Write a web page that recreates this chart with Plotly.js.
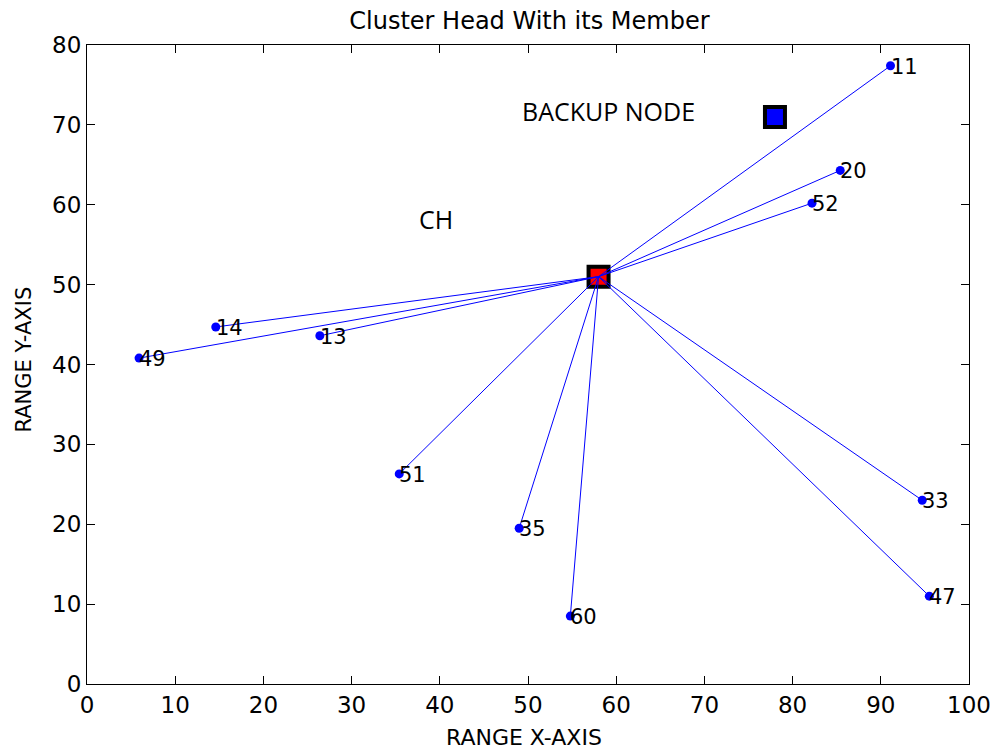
<!DOCTYPE html>
<html>
<head>
<meta charset="utf-8">
<script src="https://cdn.plot.ly/plotly-3.0.1.min.js"></script>
<style>html,body{margin:0;padding:0;background:#fff;}#chart{width:997px;height:753px;}</style>
</head>
<body>
<div id="chart"></div>
<script>
// Cluster head and backup node
const chX = 58, chY = 51;
const backupX = 78, backupY = 71;
// Member nodes
const memberIds = ["11", "20", "52", "14", "13", "49", "51", "35", "60", "33", "47"];
const memberX = [91.1, 85.4, 82.2, 14.6, 26.4, 5.9, 35.4, 49.0, 54.8, 94.7, 95.5];
const memberY = [77.4, 64.3, 60.2, 44.7, 43.6, 40.8, 26.3, 19.5, 8.5, 23.0, 11.0];

// Build link segments from CH to each member
const linkX = [], linkY = [];
for (let i = 0; i < memberX.length; i++) {
  linkX.push(chX, memberX[i], null);
  linkY.push(chY, memberY[i], null);
}

const font = "DejaVu Sans, Arial, sans-serif";
const labelFont = "Open Sans, Lato, sans-serif";

const traces = [
  {x: [chX], y: [chY], mode: 'markers', type: 'scatter', hoverinfo: 'skip',
   marker: {symbol: 'square', size: 20, color: '#ff0000', line: {color: '#000', width: 4}}},
  {x: [backupX], y: [backupY], mode: 'markers', type: 'scatter', hoverinfo: 'skip',
   marker: {symbol: 'square', size: 20, color: '#0000ff', line: {color: '#000', width: 4}}},
  {x: linkX, y: linkY, mode: 'lines', type: 'scatter', hoverinfo: 'skip',
   line: {color: '#0000ff', width: 1}},
  {x: memberX, y: memberY, mode: 'markers', type: 'scatter',
   marker: {color: '#0000ff', size: 9}}
];

const memberAnnotations = memberIds.map((id, i) => ({
  x: memberX[i], y: memberY[i], xref: 'x', yref: 'y', text: id, showarrow: false,
  xanchor: 'left', yanchor: 'middle', xshift: -2, yshift: -1,
  font: {family: font, size: 21, color: '#000'}
}));

const axisCommon = {
  showgrid: false, zeroline: false, showline: true, linecolor: '#000', linewidth: 1,
  mirror: 'ticks', ticks: 'inside', ticklen: 8, tickcolor: '#000',
  tickfont: {family: font, size: 23, color: '#000'}
};

const layout = {
  width: 997, height: 753,
  margin: {l: 87, r: 28, t: 45, b: 69},
  paper_bgcolor: '#fff', plot_bgcolor: '#fff',
  showlegend: false,
  title: {text: 'Cluster Head With its Member', font: {family: font, size: 24, color: '#000'},
          x: 0.531, xanchor: 'center', y: 0.973, yanchor: 'middle'},
  xaxis: Object.assign({}, axisCommon, {range: [0, 100], dtick: 10}),
  yaxis: Object.assign({}, axisCommon, {range: [0, 80], dtick: 10}),
  annotations: [
    {x: 0.496, y: 0, xref: 'paper', yref: 'paper', text: 'RANGE X-AXIS', showarrow: false,
     xanchor: 'center', yanchor: 'middle', yshift: -53,
     font: {family: font, size: 22, color: '#000'}},
    {x: 0, y: 0.5, xref: 'paper', yref: 'paper', text: 'RANGE Y-AXIS', showarrow: false,
     xanchor: 'center', yanchor: 'middle', xshift: -64, yshift: 5, textangle: -90,
     font: {family: font, size: 21, color: '#000'}},
    {x: 59.1, y: 71.7, xref: 'x', yref: 'y', text: 'BACKUP NODE', showarrow: false,
     font: {family: labelFont, size: 25, color: '#000'}},
    {x: 39.6, y: 58.2, xref: 'x', yref: 'y', text: 'CH', showarrow: false,
     font: {family: labelFont, size: 25, color: '#000'}}
  ].concat(memberAnnotations)
};

Plotly.newPlot('chart', traces, layout, {displayModeBar: false, staticPlot: true});
</script>
</body>
</html>
